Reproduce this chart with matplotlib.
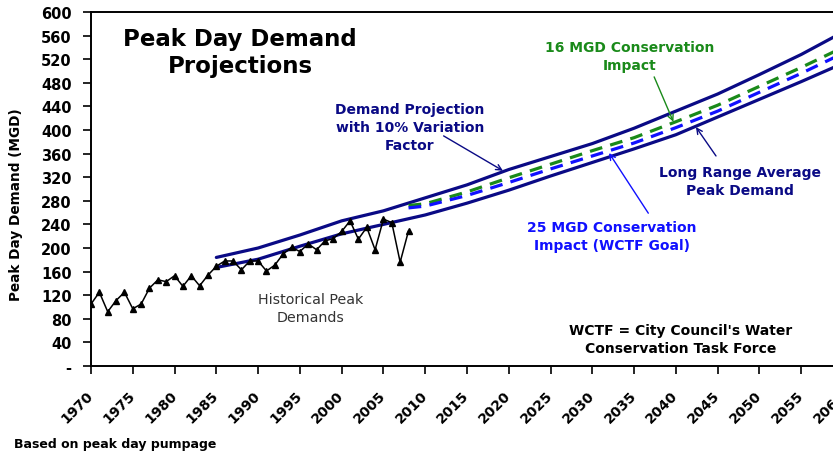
import numpy as np
import matplotlib.pyplot as plt

# historical peak day pumpage (MGD)
hist_years = list(range(1970, 2009))
hist_demand = [105, 125, 92, 111, 125, 97, 105, 132, 146, 143,
               153, 135, 153, 136, 154, 169, 178, 178, 163, 178,
               178, 161, 171, 190, 201, 194, 207, 197, 212, 216,
               228, 246, 215, 235, 197, 249, 243, 176, 229]

# projections
proj_years = [1985, 1990, 1995, 2000, 2005, 2010, 2015, 2020, 2025,
              2030, 2035, 2040, 2045, 2050, 2055, 2060]
long_range = [167, 181, 203, 224, 240, 256, 276, 298, 322,
              345, 368, 392, 422, 452, 482, 513]
upper_10pct = [184, 200, 222, 246, 263, 285, 307, 333, 355,
               377, 403, 432, 461, 494, 528, 566]

cons_years = [2008, 2010, 2015, 2020, 2025, 2030, 2035, 2040, 2045, 2050, 2055, 2060]
cons_16 = [272, 275, 295, 319, 342, 365, 387, 414, 442, 474, 506, 540]
cons_25 = [268, 271, 289, 311, 334, 356, 378, 404, 432, 464, 496, 530]

xticks = list(range(1970, 2061, 5))
yticks = list(range(0, 601, 40))

NAVY = '#0a0a85'
BLUE = '#1010ff'
GREEN = '#1a8a1a'

W, H = 833, 456
fig = plt.figure(figsize=(W / 100, H / 100), dpi=100)
# axes run a little past the right edge of the picture, like the cropped original
ax = fig.add_axes([91 / W, 1 - 367 / H, 752 / W, 354 / H])

ax.plot(proj_years, upper_10pct, color=NAVY, lw=2.3, solid_capstyle='round')
ax.plot(proj_years, long_range, color=NAVY, lw=2.3, solid_capstyle='round')
ax.plot(cons_years, cons_16, color=GREEN, lw=2.3, dashes=(4, 2.6))
ax.plot(cons_years, cons_25, color=BLUE, lw=2.3, dashes=(4, 2.6))
ax.plot(hist_years, hist_demand, color='black', lw=1.1, marker='^', ms=5)

ax.set_xlim(1970, 2060)
ax.set_ylim(0, 600)
ax.set_xticks(xticks)
ax.set_yticks(yticks)
ax.set_yticklabels(['-'] + [str(v) for v in yticks[1:]])
ax.tick_params(direction='out', length=6, width=1.2)
ax.tick_params(axis='y', pad=8, labelsize=10.5)
ax.tick_params(axis='x', pad=13, labelsize=10)
for lab in ax.get_yticklabels():
    lab.set_fontweight('bold')
for lab in ax.get_xticklabels():
    lab.set_fontweight('bold')
    lab.set_rotation(45)
    lab.set_ha('right')
    lab.set_va('center')
    lab.set_rotation_mode('anchor')
for sp in ax.spines.values():
    sp.set_linewidth(1.4)

ax.set_ylabel('Peak Day Demand (MGD)', fontsize=9.8, fontweight='bold')
ax.yaxis.set_label_coords(-68 / 752, 0.458)


def ftext(x, y, s, **kw):
    fig.text(x / W, 1 - y / H, s, ha='center', va='center', **kw)


ftext(240, 53, 'Peak Day Demand\nProjections', fontsize=16.5, fontweight='bold',
      linespacing=1.2)
ftext(410, 128, 'Demand Projection\nwith 10% Variation\nFactor', fontsize=10,
      fontweight='bold', color=NAVY, linespacing=1.35)
ftext(630, 57, '16 MGD Conservation\nImpact', fontsize=10, fontweight='bold',
      color=GREEN, linespacing=1.35)
ftext(740, 182, 'Long Range Average\nPeak Demand', fontsize=10, fontweight='bold',
      color=NAVY, linespacing=1.35)
ftext(612, 237, '25 MGD Conservation\nImpact (WCTF Goal)', fontsize=10,
      fontweight='bold', color=BLUE, linespacing=1.35)
ftext(681, 340, "WCTF = City Council's Water\nConservation Task Force", fontsize=10,
      fontweight='bold', color='black', linespacing=1.3)
ftext(311, 309, 'Historical Peak\nDemands', fontsize=10.3, color='#333333',
      linespacing=1.3)
fig.text(14 / W, 1 - 445 / H, 'Based on peak day pumpage', fontsize=9,
         fontweight='bold', ha='left', va='center')

arrows = [((2012.2, 390), (2019.3, 331), NAVY),
          ((2037.4, 490), (2039.7, 414), GREEN),
          ((2044.8, 356), (2042.4, 405), NAVY),
          ((2036.7, 259), (2032.0, 361), BLUE)]
for tail, tip, col in arrows:
    ax.annotate('', xy=tip, xytext=tail,
                arrowprops=dict(arrowstyle='->', color=col, lw=1.0,
                                shrinkA=0, shrinkB=0))

fig.savefig('out.png', dpi=100)
